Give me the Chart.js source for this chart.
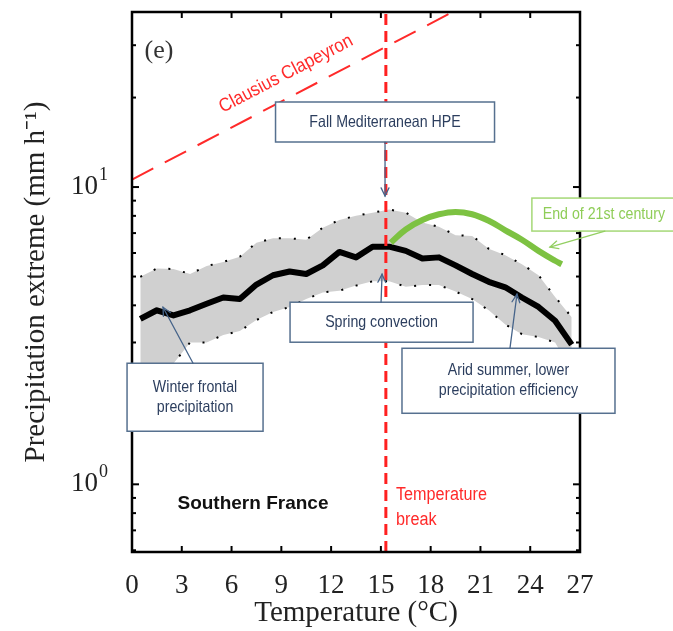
<!DOCTYPE html>
<html>
<head>
<meta charset="utf-8">
<script src="https://cdn.jsdelivr.net/npm/chart.js@4.4.1/dist/chart.umd.min.js"></script>
<style>
html,body{margin:0;padding:0;background:#fff;}
#wrap{width:673px;height:631px;}
</style>
</head>
<body>
<div id="wrap"><canvas id="c" width="673" height="631"></canvas></div>
<script>
// ---------------- data ----------------
const temps = [0.5,1.5,2.5,3.5,4.5,5.5,6.5,7.5,8.5,9.5,10.5,11.5,12.5,13.5,14.5,15.5,16.5,17.5,18.5,19.5,20.5,21.5,22.5,23.5,24.5,25.5,26.5];
const meanExtreme  = [3.6,3.85,3.7,3.85,4.05,4.25,4.2,4.7,5.05,5.2,5.1,5.45,6.05,5.8,6.3,6.3,6.1,5.75,5.8,5.45,5.1,4.8,4.6,4.25,3.95,3.55,2.95];
const upperExtreme = [4.99,5.32,5.3,5.1,5.42,5.6,5.83,6.5,6.72,6.72,6.65,7.3,7.75,8.0,8.2,8.4,8.2,7.6,7.35,6.89,6.85,6.2,5.9,5.5,5.05,4.27,3.65];
const lowerExtreme = [2.3,2.4,2.55,3.0,3.0,3.18,3.28,3.57,3.8,3.95,4.2,4.42,4.48,4.66,4.82,4.82,4.62,4.68,4.68,4.45,4.2,3.85,3.45,3.2,3.13,3.0,2.4];
const futureTemps   = [15.6,16.5,17.5,18.5,19.5,20.5,21.5,22.5,23.5,24.5,25.5,25.9];
const futureExtreme = [6.5,7.2,7.75,8.1,8.25,8.1,7.7,7.15,6.65,6.1,5.65,5.5];
const ccTemps  = [0, 20];
const ccValues = [10.6, 40.6];
const breakTemp = 15.3;
const xTickValues = [0,3,6,9,12,15,18,21,24,27];
const yTickValues = [1,10];
const yTickLabels = ['10','10'];
const yTickExponents = ['0','1'];
const yMinorTicks = [0.6,0.7,0.8,0.9,2,3,4,5,6,7,8,9,20,30];
const yMin = 0.592, yMax = 38.8;

// ---------------- annotation layout (data coordinates) ----------------
const boxes = [
  {lines:['Fall Mediterranean HPE'], t:15.25, v:16.55, w:219, h:40, border:'#56708f', color:'#2c3e5e',
   from:[15.25,14.17], to:[15.25,9.33], arrowColor:'#46648a'},
  {lines:['Spring convection'], t:15.04, v:3.51, w:183, h:40, border:'#56708f', color:'#2c3e5e',
   from:[15.01,4.10], to:[15.07,5.09], arrowColor:'#46648a'},
  {lines:['Winter frontal','precipitation'], t:3.80, v:1.963, w:136, h:68, border:'#56708f', color:'#2c3e5e',
   from:[3.68,2.555], to:[1.87,3.94], arrowColor:'#46648a'},
  {lines:['Arid summer, lower','precipitation efficiency'], t:22.69, v:2.23, w:213, h:65, border:'#56708f', color:'#2c3e5e',
   from:[22.78,2.87], to:[23.2,4.36], arrowColor:'#46648a'},
  {lines:['End of 21st century'], t:28.44, v:8.08, w:144, h:33, border:'#a5d877', color:'#8fcd58',
   from:[28.5,7.11], to:[25.19,6.28], arrowColor:'#93cf62'}
];

const SANS = '"Liberation Sans", Arial, sans-serif';
const SERIF = '"Liberation Serif", "Times New Roman", serif';

function line(ctx,x1,y1,x2,y2){ctx.beginPath();ctx.moveTo(x1,y1);ctx.lineTo(x2,y2);ctx.stroke();}
function text(ctx,str,X,Y,font,color,sx,align,rot){
  ctx.save();
  ctx.translate(X,Y);
  if(rot) ctx.rotate(rot);
  ctx.scale(sx||1,1);
  ctx.font=font; ctx.fillStyle=color; ctx.textAlign=align||'center'; ctx.textBaseline='middle';
  ctx.fillText(str,0,0);
  ctx.restore();
}
function arrow(ctx,x1,y1,x2,y2,color,w){
  ctx.save();
  ctx.strokeStyle=color; ctx.lineWidth=w; ctx.lineCap='round';
  line(ctx,x1,y1,x2,y2);
  const a=Math.atan2(y2-y1,x2-x1), L=9, s=0.45;
  ctx.beginPath();
  ctx.moveTo(x2-L*Math.cos(a-s),y2-L*Math.sin(a-s));
  ctx.lineTo(x2,y2);
  ctx.lineTo(x2-L*Math.cos(a+s),y2-L*Math.sin(a+s));
  ctx.stroke();
  ctx.restore();
}

const annoPlugin = {
  id:'anno',
  afterDatasetsDraw(chart){
    const {ctx, chartArea:a, scales:{x,y}} = chart;
    const px=t=>x.getPixelForValue(t), py=v=>y.getPixelForValue(v);
    ctx.save();
    // frame
    ctx.strokeStyle='#000'; ctx.lineWidth=2.5;
    ctx.strokeRect(a.left,a.top,a.right-a.left,a.bottom-a.top);
    // inward ticks
    ctx.lineWidth=2;
    xTickValues.forEach(t=>{const X=px(t); line(ctx,X,a.bottom,X,a.bottom-6); line(ctx,X,a.top,X,a.top+6);});
    yTickValues.forEach(v=>{const Y=py(v); line(ctx,a.left,Y,a.left+7,Y); line(ctx,a.right,Y,a.right-7,Y);});
    yMinorTicks.forEach(v=>{const Y=py(v); line(ctx,a.left,Y,a.left+4,Y); line(ctx,a.right,Y,a.right-4,Y);});
    // exponents of the y tick labels
    yTickValues.forEach((v,i)=>text(ctx,yTickExponents[i],a.left-33,py(v)-12,'18px '+SERIF,'#222',1,'left'));

    // free texts
    text(ctx,'(e)',px(1.63),py(28.7),'26px '+SERIF,'#333',1);
    const ang=Math.atan2(py(ccValues[1])-py(ccValues[0]), px(ccTemps[1])-px(ccTemps[0]));
    text(ctx,'Clausius Clapeyron',px(9.28),py(24.0),'19px '+SANS,'#ff2a2a',0.9,'center',ang);
    text(ctx,'Southern France',px(7.29),py(0.863),'bold 19px '+SANS,'#111',1);
    text(ctx,'Temperature',px(15.91),py(0.918),'18px '+SANS,'#ff2a2a',0.9,'left');
    text(ctx,'break',px(15.91),py(0.757),'18px '+SANS,'#ff2a2a',0.9,'left');

    // boxes and arrows
    boxes.forEach(b=>{
      const cx=px(b.t), cy=py(b.v);
      ctx.fillStyle='#fff';
      ctx.fillRect(cx-b.w/2,cy-b.h/2,b.w,b.h);
      ctx.strokeStyle=b.border; ctx.lineWidth=1.5;
      ctx.strokeRect(cx-b.w/2,cy-b.h/2,b.w,b.h);
      const n=b.lines.length, lh=20;
      b.lines.forEach((s,i)=>text(ctx,s,cx,cy+(i-(n-1)/2)*lh,'16.5px '+SANS,b.color,0.86));
      arrow(ctx,px(b.from[0]),py(b.from[1]),px(b.to[0]),py(b.to[1]),b.arrowColor,1.3);
    });
    ctx.restore();
  }
};

const pts=(xs,ys)=>xs.map((t,i)=>({x:t,y:ys[i]}));

new Chart(document.getElementById('c'),{
  type:'line',
  data:{datasets:[
    {label:'Upper range', data:pts(temps,upperExtreme), borderColor:'#000', borderWidth:2, borderDash:[2,13],
     fill:'+1', backgroundColor:'#d0d0d0', pointRadius:0, tension:0, order:5},
    {label:'Lower range', data:pts(temps,lowerExtreme), borderColor:'#000', borderWidth:2, borderDash:[2,13],
     fill:false, pointRadius:0, tension:0, order:4},
    {label:'Mean extreme', data:pts(temps,meanExtreme), borderColor:'#000', borderWidth:6,
     borderJoinStyle:'round', borderCapStyle:'butt', fill:false, pointRadius:0, tension:0, order:3},
    {label:'End of 21st century', data:pts(futureTemps,futureExtreme), borderColor:'#7dc242', borderWidth:6,
     fill:false, pointRadius:0, tension:0.4, order:2},
    {label:'Clausius Clapeyron', data:pts(ccTemps,ccValues), borderColor:'#ff2a2a', borderWidth:2, borderDash:[24,13],
     fill:false, pointRadius:0, tension:0, order:1},
    {label:'Temperature break', data:[{x:breakTemp,y:yMin},{x:breakTemp,y:yMax}], borderColor:'#ff2020', borderWidth:3,
     borderDash:[11,6], fill:false, pointRadius:0, tension:0, order:0}
  ]},
  options:{
    responsive:false, animation:false, devicePixelRatio:1,
    layout:{padding:{top:12,right:93,left:0,bottom:0}},
    plugins:{legend:{display:false}, tooltip:{enabled:false}},
    scales:{
      x:{type:'linear', min:0, max:27,
         grid:{display:false}, border:{display:false},
         afterBuildTicks:s=>{s.ticks=xTickValues.map(v=>({value:v}));},
         ticks:{font:{family:SERIF,size:27}, color:'#222', padding:10, maxRotation:0, autoSkip:false},
         title:{display:true, text:'Temperature (°C)', font:{family:SERIF,size:29}, color:'#222', padding:{top:0,bottom:0}},
         afterFit:s=>{s.height=79; s.paddingLeft=0; s.paddingRight=0;}},
      y:{type:'logarithmic', min:yMin, max:yMax,
         grid:{display:false}, border:{display:false},
         afterBuildTicks:s=>{s.ticks=yTickValues.map(v=>({value:v}));},
         ticks:{font:{family:SERIF,size:27}, color:'#222', padding:26,
                callback:(v)=>{const i=yTickValues.indexOf(v); return i>=0?yTickLabels[i]:'';}},
         title:{display:true, text:'Precipitation extreme (mm h\u207B\u00B9)', font:{family:SERIF,size:29}, color:'#222', padding:{top:19,bottom:0}},
         afterFit:s=>{s.width=132; s.paddingTop=0; s.paddingBottom=0;}}
    }
  },
  plugins:[annoPlugin]
});
</script>
</body>
</html>
